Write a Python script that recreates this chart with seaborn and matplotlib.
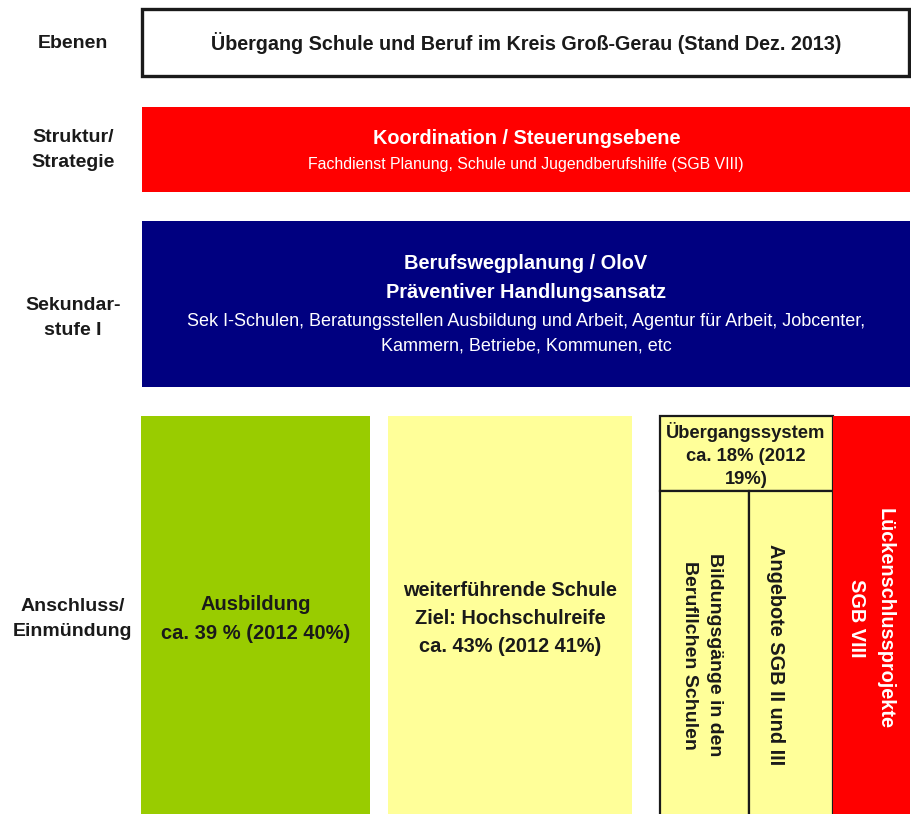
import matplotlib
matplotlib.use("Agg")
import matplotlib.pyplot as plt
import seaborn as sns

# ---- data (texts / values) ----
level_labels = ["Ebenen", "Struktur/\nStrategie", "Sekundar-\nstufe I", "Anschluss/\nEinmündung"]
title_text = "Übergang Schule und Beruf im Kreis Groß-Gerau (Stand Dez. 2013)"
koord_head = "Koordination / Steuerungsebene"
koord_sub = "Fachdienst Planung, Schule und Jugendberufshilfe (SGB VIII)"
sek_head = "Berufswegplanung / OloV\nPräventiver Handlungsansatz"
sek_sub = "Sek I-Schulen, Beratungsstellen Ausbildung und Arbeit, Agentur für Arbeit, Jobcenter,\nKammern, Betriebe, Kommunen, etc"
share_2013 = [39, 43, 18]
share_2012 = [40, 41, 19]
ausbildung = f"Ausbildung\nca. {share_2013[0]} % (2012 {share_2012[0]}%)"
schule = f"weiterführende Schule\nZiel: Hochschulreife\nca. {share_2013[1]}% (2012 {share_2012[1]}%)"
uebergang = f"Übergangssystem\nca. {share_2013[2]}% (2012\n{share_2012[2]}%)"
bildung = "Bildungsgänge in den\nBerufllchen Schulen"
angebote = "Angebote SGB II und III"
luecken = "Lückenschlussprojekte\nSGB VIII"

# ---- layout (pixel canvas) ----
W, H = 912, 814
sns.set_theme(style="white")
plt.rcParams["font.family"] = ["Liberation Sans Narrow", "Liberation Sans", "DejaVu Sans"]

fig = plt.figure(figsize=(W / 100, H / 100), dpi=100)
ax = fig.add_axes([0, 0, 1, 1])
ax.set_xlim(0, W)
ax.set_ylim(H, 0)
ax.axis("off")

def box(x0, x1, y0, y1, color, edge=None, lw=0):
    ax.bar(x0, y1 - y0, width=x1 - x0, bottom=y0, align="edge", color=color,
           edgecolor=edge if edge else color, linewidth=lw)

RED, NAVY, GREEN, YELLOW, INK = "#FF0000", "#000080", "#99CC00", "#FFFF99", "#1a1a1a"

box(142, 909, 9, 76, "white", INK, 2.4)
box(142, 910, 107, 192, RED)
box(142, 910, 221, 387, NAVY)
box(141, 370, 416, 814, GREEN)
box(388, 632, 416, 814, YELLOW)
box(660, 833, 416, 491, YELLOW, INK, 1.6)
box(660, 749, 491, 816, YELLOW, INK, 1.6)
box(749, 833, 491, 816, YELLOW, INK, 1.6)
box(833, 910, 416, 816, RED)

# left level labels
for lab, y in zip(level_labels, [43, 150, 318, 619]):
    ax.text(73, y, lab, ha="center", va="center", fontsize=14, fontweight="bold",
            color=INK, linespacing=1.6)

ax.text(526, 43, title_text, ha="center", va="center", fontsize=14.2, fontweight="bold", color=INK)
ax.text(527, 139, koord_head, ha="center", va="center", fontsize=14.3, fontweight="bold", color="white")
ax.text(526, 164, koord_sub, ha="center", va="center", fontsize=11.4, color="white")
ax.text(526, 278, sek_head, ha="center", va="center", fontsize=14.4, fontweight="bold",
        color="white", linespacing=1.7)
ax.text(526, 334, sek_sub, ha="center", va="center", fontsize=13, color="white", linespacing=1.6)

ax.text(256, 619, ausbildung, ha="center", va="center", fontsize=14.5, fontweight="bold",
        color=INK, linespacing=1.7)
ax.text(510, 618, schule, ha="center", va="center", fontsize=14.4, fontweight="bold",
        color=INK, linespacing=1.6)
ax.text(746, 455, uebergang, ha="center", va="center", fontsize=13.2, fontweight="bold",
        color=INK, linespacing=1.48)
ax.text(702, 655, bildung, ha="center", va="center", rotation=-90, fontsize=14,
        fontweight="bold", color=INK, linespacing=1.65)
ax.text(776, 655, angebote, ha="center", va="center", rotation=-90, fontsize=14.3,
        fontweight="bold", color=INK)
ax.text(871, 618, luecken, ha="center", va="center", rotation=-90, fontsize=14.3,
        fontweight="bold", color="white", linespacing=1.6)

fig.savefig("out.png", dpi=100, facecolor="white")
